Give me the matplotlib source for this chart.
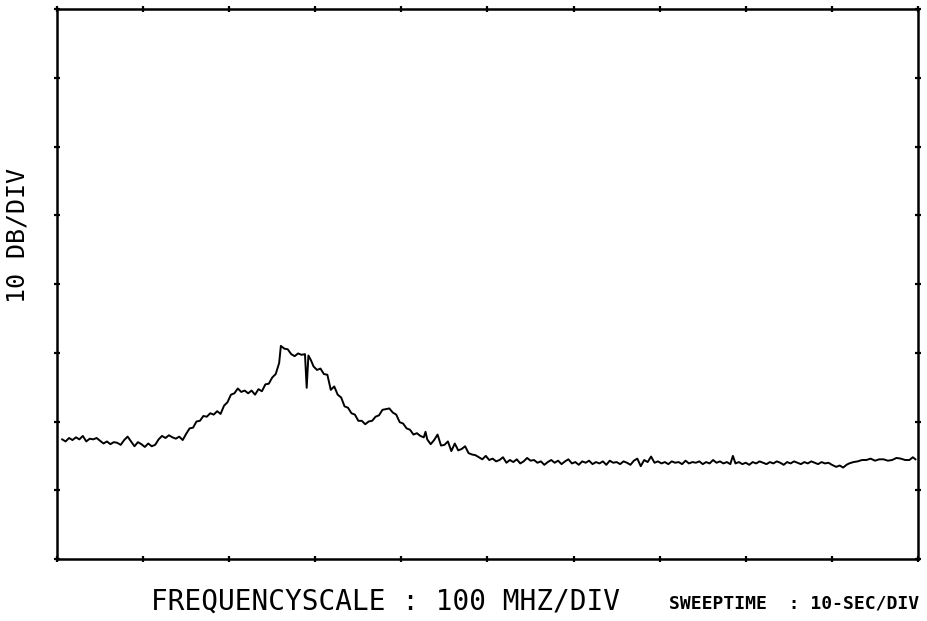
import matplotlib
matplotlib.use('Agg')
import matplotlib.pyplot as plt

# Spectrum trace: frequency (MHz) and level (dB)
freq = [6, 10, 14, 18, 22, 26, 30, 34, 38, 42, 46, 50, 54, 58, 62, 66, 70, 74, 78, 82,
        86, 90, 94, 98, 102, 106, 110, 114, 118, 122, 126, 130, 134, 138, 142, 146, 150, 154, 158, 162,
        166, 170, 174, 178, 182, 186, 190, 194, 198, 202, 206, 210, 214, 218, 222, 226, 230, 234, 238, 242,
        246, 250, 254, 258, 260, 264, 268, 272, 276, 280, 284, 288, 290, 292, 295, 298, 302, 306, 310, 314,
        318, 322, 326, 330, 334, 338, 342, 346, 350, 354, 358, 362, 366, 370, 374, 378, 382, 386, 390, 394,
        398, 402, 406, 410, 414, 418, 422, 426, 428, 430, 434, 438, 442, 446, 450, 454, 458, 462, 466, 470,
        474, 478, 482, 486, 490, 494, 498, 502, 506, 510, 514, 518, 522, 526, 530, 534, 538, 542, 546, 550,
        554, 558, 562, 566, 570, 574, 578, 582, 586, 590, 594, 598, 602, 606, 610, 614, 618, 622, 626, 630,
        634, 638, 642, 646, 650, 654, 658, 662, 666, 670, 674, 678, 682, 686, 690, 694, 698, 702, 706, 710,
        714, 718, 722, 726, 730, 734, 738, 742, 746, 750, 754, 758, 762, 766, 770, 774, 778, 782, 785, 788,
        792, 796, 800, 804, 808, 812, 816, 820, 824, 828, 832, 836, 840, 844, 848, 852, 856, 860, 864, 868,
        872, 876, 880, 884, 888, 892, 896, 900, 905, 909, 913, 917, 920, 925, 930, 935, 940, 945, 950, 955,
        960, 965, 970, 975, 980, 985, 990, 994, 997]
level = [-62.6, -62.9, -62.4, -62.7, -62.3, -62.6, -62.1, -62.9, -62.5, -62.6, -62.4, -62.8, -63.2, -62.9, -63.3, -63.0, -63.1, -63.4, -62.7, -62.2,
         -62.9, -63.6, -63.0, -63.3, -63.7, -63.2, -63.6, -63.4, -62.6, -62.1, -62.4, -62.0, -62.3, -62.5, -62.2, -62.7, -61.8, -61.0, -60.9, -60.0,
         -59.9, -59.2, -59.3, -58.8, -59.0, -58.5, -58.9, -57.7, -57.2, -56.1, -55.9, -55.2, -55.7, -55.5, -55.9, -55.5, -56.1, -55.3, -55.6, -54.6,
         -54.5, -53.6, -53.1, -51.5, -49.0, -49.4, -49.5, -50.2, -50.5, -50.1, -50.3, -50.2, -55.1, -50.4, -51.1, -52.0, -52.5, -52.3, -53.1, -53.2,
         -55.4, -54.9, -56.1, -56.5, -57.8, -58.0, -58.8, -59.0, -59.9, -59.9, -60.4, -60.0, -59.9, -59.3, -59.1, -58.3, -58.2, -58.1, -58.7, -59.0,
         -60.1, -60.3, -61.0, -61.2, -61.9, -61.7, -62.1, -62.3, -61.5, -62.6, -63.3, -62.7, -61.9, -63.5, -63.4, -62.9, -64.3, -63.2, -64.2, -64.0,
         -63.6, -64.6, -64.8, -64.9, -65.2, -65.5, -65.0, -65.6, -65.4, -65.8, -65.6, -65.2, -66.0, -65.6, -65.9, -65.5, -66.1, -65.8, -65.3, -65.7,
         -65.6, -66.0, -65.8, -66.3, -65.9, -65.6, -66.0, -65.7, -66.2, -65.8, -65.5, -66.1, -65.9, -66.3, -65.8, -66.0, -65.7, -66.2, -65.9, -66.1,
         -65.8, -66.3, -65.7, -66.0, -65.9, -66.2, -65.8, -66.0, -66.3, -65.7, -65.4, -66.5, -65.6, -65.9, -65.1, -66.0, -65.8, -66.1, -65.9, -66.2,
         -65.8, -66.0, -65.9, -66.2, -65.7, -66.1, -65.9, -66.0, -65.8, -66.2, -65.9, -66.1, -65.6, -66.0, -65.8, -66.1, -65.9, -66.2, -65.0, -66.1,
         -65.9, -66.2, -66.0, -66.3, -65.9, -66.1, -65.8, -66.0, -66.2, -65.9, -66.1, -65.8, -66.0, -66.3, -65.9, -66.1, -65.8, -66.0, -66.2, -65.9,
         -66.1, -65.8, -66.0, -66.2, -65.9, -66.1, -66.0, -66.3, -66.6, -66.4, -66.7, -66.3, -66.1, -65.9, -65.8, -65.6, -65.6, -65.4, -65.7, -65.5,
         -65.5, -65.7, -65.6, -65.3, -65.4, -65.6, -65.6, -65.2, -65.5]

xlabel = 'FREQUENCYSCALE : 100 MHZ/DIV'
ylabel = '10 DB/DIV'
sweep = 'SWEEPTIME  : 10-SEC/DIV'

plt.rcParams['font.family'] = ['DejaVu Sans Mono', 'DejaVu Sans']

fig = plt.figure(figsize=(9.28, 6.21), dpi=100)
a = fig.add_axes([57/928, 1-559/621, 861/928, 550/621])

a.plot(freq, level, color='k', lw=1.4)

# 10 divisions across, 8 divisions up (10 dB each)
a.set_xlim(0, 1000)
a.set_ylim(-80, 0)
a.set_xticks(range(0, 1001, 100))
a.set_yticks(range(-80, 1, 10))
a.tick_params(direction='inout', length=5, width=1.6, top=True, right=True,
              labelbottom=False, labelleft=False)
for s in a.spines.values():
    s.set_linewidth(1.8)

fig.text(0.415, 0.008, xlabel, fontsize=20, ha='center', va='bottom')
fig.text(0.019, 0.62, ylabel, fontsize=18, rotation=90, ha='center', va='center')
fig.text(0.99, 0.014, sweep, fontsize=13, fontweight='bold', ha='right', va='bottom')

fig.savefig('out.png', dpi=100)
